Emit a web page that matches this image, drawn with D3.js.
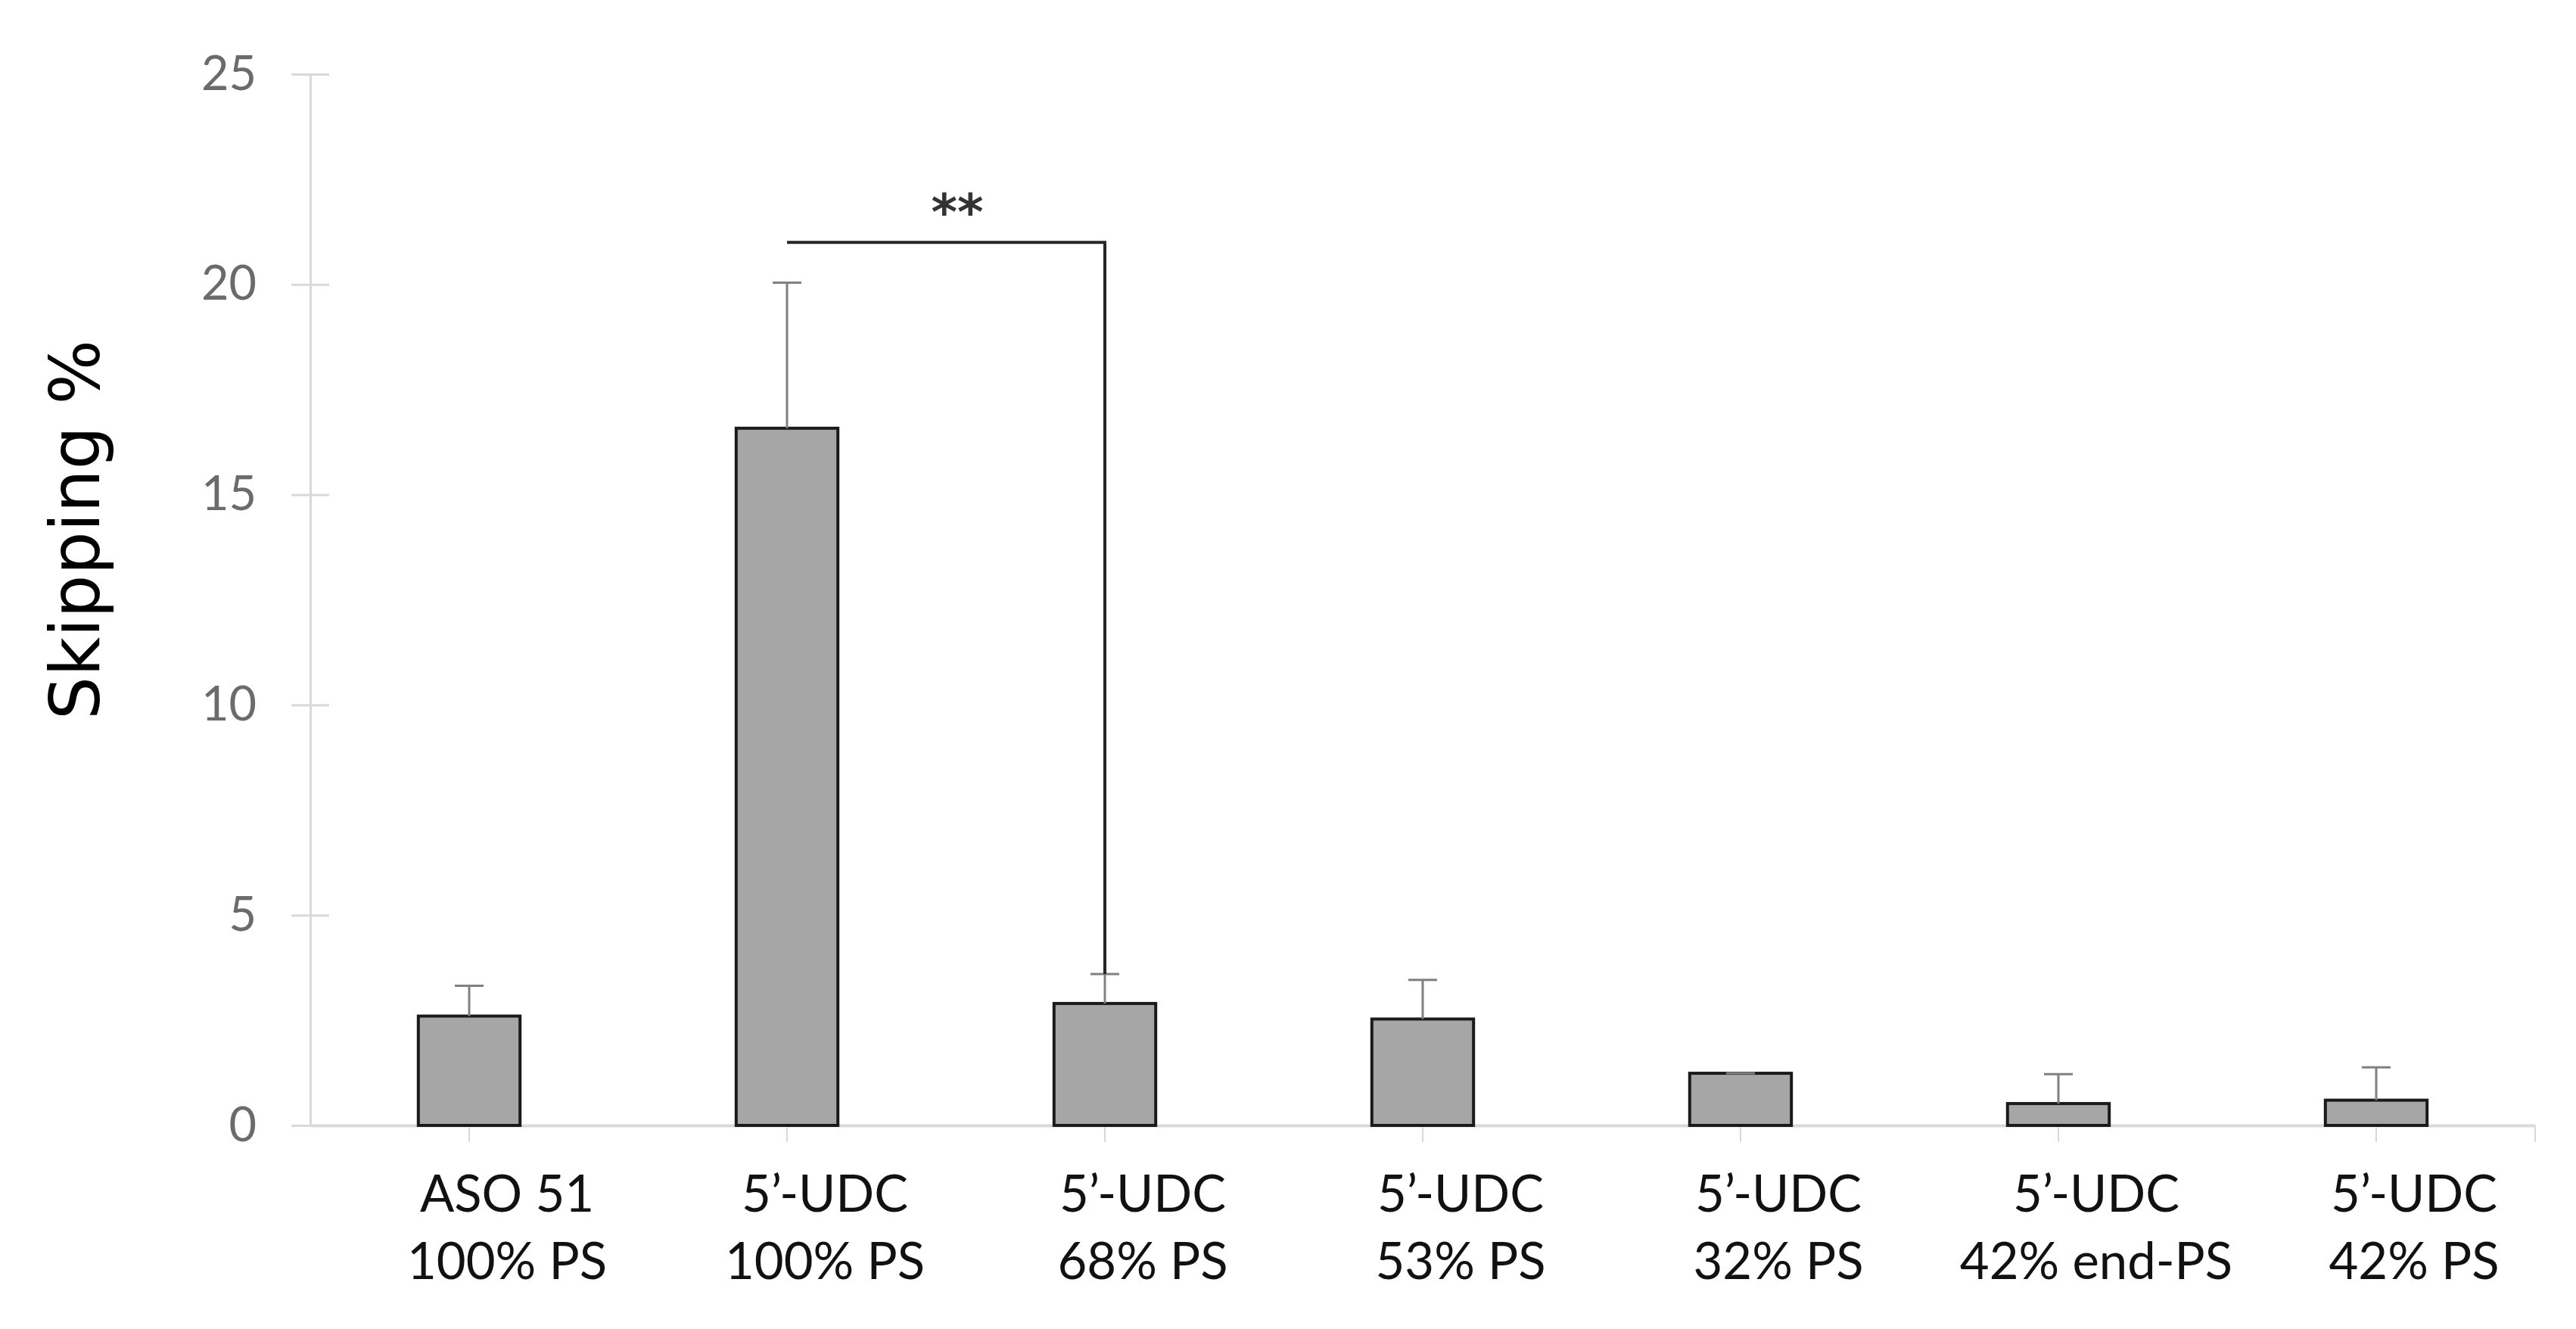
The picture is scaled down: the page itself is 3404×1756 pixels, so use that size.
<!DOCTYPE html>
<html>
<head>
<meta charset="utf-8">
<script src="https://cdn.jsdelivr.net/npm/d3@7"></script>
<style>
  html, body { margin: 0; padding: 0; background: #ffffff; }
  svg { display: block; }
</style>
</head>
<body>
<script>
// ---- data ----
const categoryLine1 = ["ASO 51", "5’-UDC", "5’-UDC", "5’-UDC", "5’-UDC", "5’-UDC", "5’-UDC"];
const categoryLine2 = ["100% PS", "100% PS", "68% PS", "53% PS", "32% PS", "42% end-PS", "42% PS"];
const skipping = [2.6, 16.58, 2.9, 2.53, 1.24, 0.52, 0.6];
const errorUp = [0.72, 3.46, 0.7, 0.93, 0, 0.7, 0.78];
const yTicks = [0, 5, 10, 15, 20, 25];
const yLabel = "Skipping %";
const sigFrom = 1, sigTo = 2, sigLevel = 21, sigText = "**";

// ---- layout ----
const W = 3404, H = 1756;
const X0 = 410, X1 = 3350, Y0 = 1487, Y1 = 98;

const svg = d3.select("body").append("svg").attr("width", W).attr("height", H);
svg.append("rect").attr("width", W).attr("height", H).attr("fill", "#fff");

const x = d3.scaleBand().domain(d3.range(categoryLine1.length)).range([X0, X1])
  .paddingInner(0.68).paddingOuter(0.34);
const y = d3.scaleLinear().domain([0, 25]).range([Y0, Y1]);
const cx = i => x(i) + x.bandwidth() / 2;

const axisColor = "#d9d9d9";

// y axis
const yAxis = svg.append("g").attr("transform", `translate(${X0},0)`)
  .call(d3.axisLeft(y).tickValues(yTicks).tickSizeInner(25).tickSizeOuter(0).tickPadding(46));
yAxis.select(".domain").attr("stroke", axisColor).attr("stroke-width", 3);
yAxis.selectAll(".tick line").attr("stroke", axisColor).attr("stroke-width", 3);
yAxis.selectAll(".tick").append("line").attr("x1", 0).attr("x2", 25)
  .attr("stroke", axisColor).attr("stroke-width", 3);
yAxis.selectAll(".tick text").attr("fill", "#6b6b6b")
  .style("font-family", "Lato, 'Open Sans', sans-serif").style("font-size", "63px");

// x axis
const xAxis = svg.append("g").attr("transform", `translate(0,${Y0})`)
  .call(d3.axisBottom(x).tickSizeInner(22).tickSizeOuter(0).tickFormat(""));
xAxis.select(".domain").attr("stroke", axisColor).attr("stroke-width", 4);
xAxis.selectAll(".tick line").attr("stroke", axisColor).attr("stroke-width", 2);
xAxis.append("line").attr("x1", X1).attr("x2", X1).attr("y1", 0).attr("y2", 22)
  .attr("stroke", axisColor).attr("stroke-width", 2);

// category labels
const labels = svg.append("g")
  .style("font-family", "Lato, 'Open Sans', sans-serif").style("font-size", "67px")
  .attr("fill", "#111").attr("text-anchor", "middle");
categoryLine1.forEach((t, i) => {
  const g = labels.append("text").attr("transform", `translate(${cx(i) + 50},0)`);
  g.append("tspan").attr("x", 0).attr("y", 1601).text(t);
  g.append("tspan").attr("x", 0).attr("y", 1690).text(categoryLine2[i]);
});

// bars
svg.append("g").selectAll("rect").data(skipping).join("rect")
  .attr("x", (d, i) => x(i))
  .attr("y", d => y(d))
  .attr("width", x.bandwidth())
  .attr("height", d => Y0 - y(d))
  .attr("fill", "#a6a6a6")
  .attr("stroke", "#1a1a1a")
  .attr("stroke-width", 4);

// error bars (upper only)
const eb = svg.append("g").attr("stroke", "#808080").attr("stroke-width", 3);
skipping.forEach((v, i) => {
  eb.append("line").attr("x1", cx(i)).attr("x2", cx(i)).attr("y1", y(v)).attr("y2", y(v + errorUp[i]));
  eb.append("line").attr("x1", cx(i) - 19).attr("x2", cx(i) + 19)
    .attr("y1", y(v + errorUp[i])).attr("y2", y(v + errorUp[i]));
});

// significance bracket
const sig = svg.append("g");
sig.append("path")
  .attr("d", `M${cx(sigFrom)},${y(sigLevel)} H${cx(sigTo)} V${y(skipping[sigTo] + errorUp[sigTo])}`)
  .attr("fill", "none").attr("stroke", "#262626").attr("stroke-width", 4);
sig.append("text").attr("x", (cx(sigFrom) + cx(sigTo)) / 2 + 15).attr("y", 303)
  .attr("text-anchor", "middle").attr("fill", "#333")
  .style("font-family", "'DejaVu Sans', sans-serif").style("font-size", "66px")
  .style("font-weight", "bold")
  .text(sigText);

// y axis title
svg.append("text").attr("transform", "translate(131,700) rotate(-90)")
  .attr("text-anchor", "middle").attr("fill", "#000")
  .style("font-family", "'DejaVu Sans', sans-serif").style("font-size", "90px")
  .text(yLabel);
</script>
</body>
</html>
